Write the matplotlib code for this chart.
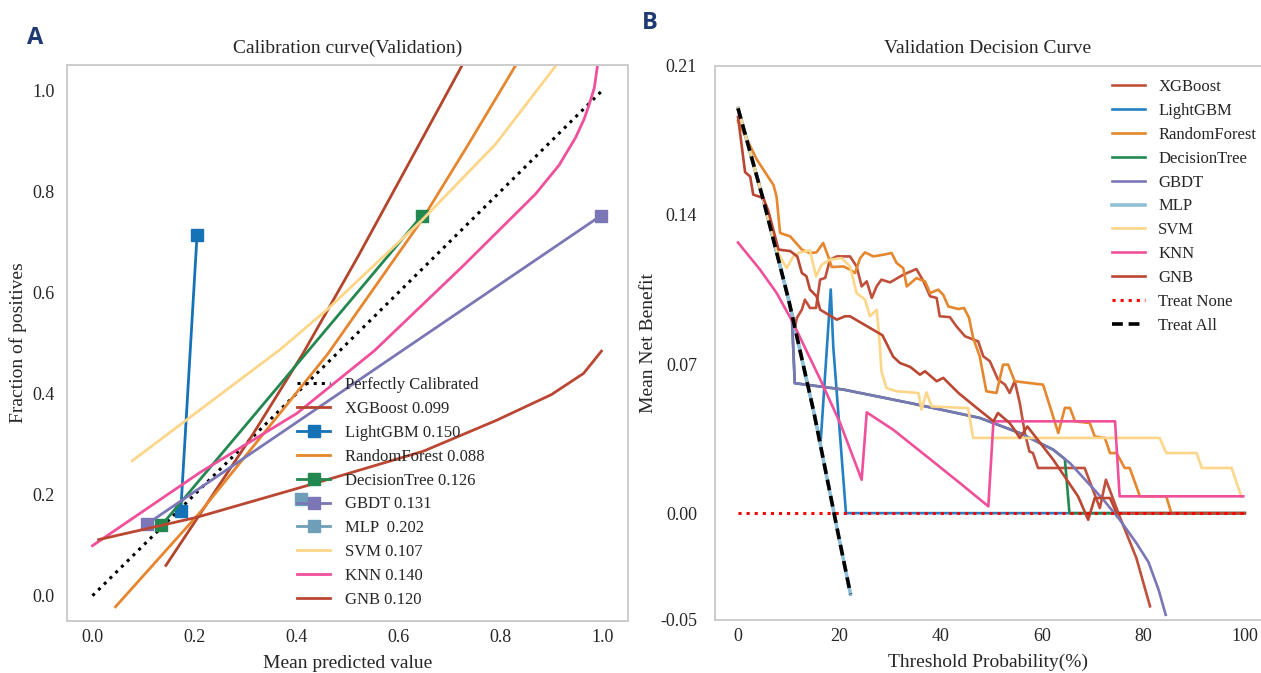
import matplotlib
matplotlib.use("Agg")
import matplotlib.pyplot as plt

# ---------------- Panel A: calibration curves ----------------
perfect_x = [0.0, 1.0]
perfect_y = [0.0, 1.0]

xgb_cal_x = [0.144, 0.313, 0.412, 0.52, 0.62, 0.724, 0.75]
xgb_cal_y = [0.060, 0.317, 0.478, 0.67, 0.855, 1.048, 1.10]
lgbm_cal_x = [0.173, 0.205]
lgbm_cal_y = [0.167, 0.713]
rf_cal_x = [0.045, 0.211, 0.461, 0.645, 0.737, 0.829, 0.86]
rf_cal_y = [-0.022, 0.165, 0.478, 0.742, 0.893, 1.048, 1.10]
dt_cal_x = [0.135, 0.646]
dt_cal_y = [0.139, 0.752]
gbdt_cal_x = [0.107, 0.997]
gbdt_cal_y = [0.142, 0.752]
mlp_cal_x = [0.408]
mlp_cal_y = [0.192]
svm_cal_x = [0.078, 0.369, 0.461, 0.645, 0.79, 0.908, 0.94]
svm_cal_y = [0.267, 0.488, 0.567, 0.742, 0.893, 1.048, 1.10]
knn_cal_x = [0.0, 0.211, 0.401, 0.553, 0.724, 0.868, 0.915, 0.947, 0.964, 0.974, 0.984, 0.990, 0.995]
knn_cal_y = [0.099, 0.244, 0.361, 0.485, 0.650, 0.794, 0.852, 0.906, 0.943, 0.972, 1.005, 1.048, 1.10]
gnb_cal_x = [0.012, 0.204, 0.435, 0.649, 0.792, 0.90, 0.963, 0.998]
gnb_cal_y = [0.111, 0.155, 0.222, 0.286, 0.347, 0.398, 0.440, 0.484]

cal_labels = ["Perfectly Calibrated", "XGBoost 0.099", "LightGBM 0.150", "RandomForest 0.088",
              "DecisionTree 0.126", "GBDT 0.131", "MLP  0.202", "SVM 0.107", "KNN 0.140", "GNB 0.120"]
cal_xticks = [0.0, 0.2, 0.4, 0.6, 0.8, 1.0]
cal_ticklabels = ["0.0", "0.2", "0.4", "0.6", "0.8", "1.0"]

# ---------------- Panel B: decision curves ----------------
xgb_dca_x = [0, 5, 10, 11.3, 11.6, 12.6, 13.2, 14.2, 15.4, 16.2, 17.2, 18.15, 19.5, 22.1, 23.4, 24.4,
             25.4, 26.4, 27.35, 28.3, 30.0, 32.6, 35.2, 36.6, 37.9, 39.2, 39.8, 41.8, 43.1, 44.8,
             47.4, 48.4, 49.7, 51.3, 52.7, 53.6, 54.6, 55.6, 56.6, 57.5, 58.2, 59.2, 68.4, 71.4,
             72.6, 75.3, 78.6, 81.3]
xgb_dca_y = [0.190, 0.147, 0.100, 0.088, 0.0916, 0.0955, 0.1002, 0.0963, 0.0963, 0.1096, 0.1104,
             0.119, 0.1205, 0.1205, 0.1158, 0.1064, 0.1088, 0.1010, 0.1064, 0.1096, 0.1083, 0.1119,
             0.1146, 0.1088, 0.1018, 0.101, 0.0924, 0.092, 0.0877, 0.083, 0.0806, 0.0736, 0.0713,
             0.0627, 0.0603, 0.0564, 0.062, 0.0517, 0.0376, 0.029, 0.0282, 0.0212, 0.0212, 0.0024,
             0.0157, -0.0015, -0.021, -0.0437]

lgbm_dca_x = [0, 5, 10, 16.3, 18.3, 18.8, 21.3, 100]
lgbm_dca_y = [0.190, 0.147, 0.100, 0.033, 0.105, 0.078, 0.0, 0.0]

rf_dca_x = [0, 3.7, 7.0, 7.6, 8.3, 10.3, 12.6, 14.2, 15.5, 16.8, 17.8, 18.5, 20.8, 22.1, 23.1, 24.1,
            25.05, 26.7, 28.7, 30.3, 31.3, 32.6, 33.3, 35.2, 36.9, 37.9, 39.5, 40.5, 41.5, 43.5,
            44.6, 45.6, 46.4, 47.7, 49.0, 51.0, 52.3, 53.3, 54.6, 60.2, 63.2, 64.5, 65.5, 66.5,
            69.4, 70.4, 72.4, 73.4, 74.7, 76.3, 77.3, 79.3, 84.5, 85.5, 100]
rf_dca_y = [0.184, 0.166, 0.154, 0.1487, 0.1315, 0.1299, 0.1237, 0.1221, 0.1224, 0.1268, 0.1205,
            0.1155, 0.1158, 0.1143, 0.1127, 0.1197, 0.1224, 0.1205, 0.1213, 0.1221, 0.1174, 0.1150,
            0.1064, 0.1103, 0.1088, 0.1033, 0.1049, 0.1025, 0.097, 0.0958, 0.0963, 0.0916, 0.0822,
            0.0736, 0.0572, 0.0564, 0.0697, 0.0697, 0.0619, 0.0603, 0.0376, 0.0494, 0.0494, 0.0431,
            0.0423, 0.036, 0.0353, 0.0282, 0.0282, 0.0212, 0.0212, 0.0079, 0.0079, 0.0, 0.0]

dt_dca_x = [0, 5, 10, 10.6, 11.2, 20.8, 33.9, 47.7, 55.6, 62.2, 64.5, 65.4, 100]
dt_dca_y = [0.190, 0.147, 0.100, 0.094, 0.061, 0.058, 0.0517, 0.0447, 0.0376, 0.0298, 0.0254, 0.0, 0.0]

gbdt_dca_x = [0, 5, 10, 10.6, 11.2, 20.8, 33.9, 47.7, 55.6, 62.2, 65.5, 68.8, 72.1, 75.3, 78.6,
              81.0, 83.0, 84.4]
gbdt_dca_y = [0.190, 0.147, 0.100, 0.094, 0.061, 0.058, 0.0517, 0.0447, 0.0376, 0.0298, 0.0235,
              0.0149, 0.0063, -0.003, -0.014, -0.023, -0.036, -0.0477]

mlp_dca_x = [0, 5, 10, 15, 20, 22.2]
mlp_dca_y = [0.190, 0.147, 0.100, 0.047, -0.0125, -0.038]

svm_dca_x = [0, 5, 7.63, 8.61, 9.6, 10.9, 12.23, 14.2, 15.4, 16.5, 18.15, 20.45, 22.1, 23.4, 25.05,
             26.04, 27.35, 27.68, 28.0, 28.3, 29.3, 31.3, 35.6, 36.2, 37.2, 38.2, 45.4, 46.4, 83.2,
             84.5, 90.5, 91.5, 97.4, 99.3]
svm_dca_y = [0.190, 0.147, 0.1237, 0.1190, 0.115, 0.1205, 0.1224, 0.1233, 0.1111, 0.1166, 0.119,
             0.1197, 0.1158, 0.1033, 0.1002, 0.0924, 0.0955, 0.0877, 0.0783, 0.0666, 0.0587, 0.0572,
             0.0564, 0.0486, 0.0567, 0.0501, 0.0493, 0.0353, 0.0353, 0.0282, 0.0282, 0.0212, 0.0212,
             0.0079]

knn_dca_x = [0, 4.34, 7.63, 10.85, 16.4, 20.2, 24.4, 25.4, 30.6, 37.2, 43.8, 49.4, 50.4, 74.4, 75.3, 99.7]
knn_dca_y = [0.127, 0.1143, 0.1033, 0.0894, 0.0619, 0.042, 0.0157, 0.0473, 0.0392, 0.0267, 0.0141,
             0.0032, 0.0431, 0.0431, 0.0079, 0.0079]

gnb_dca_x = [0, 1.4, 2.4, 3.0, 5.0, 6.0, 8.0, 10.3, 11.7, 12.6, 13.5, 14.2, 15.5, 16.2, 19.5, 21.1,
             22.1, 28.5, 30.6, 31.95, 34.0, 35.9, 36.9, 39.2, 40.5, 43.5, 47.1, 50.4, 51.3, 53.6,
             54.6, 55.6, 57.1, 62.2, 67.1, 69.1, 70.4, 73.4, 74.7, 100]
gnb_dca_y = [0.186, 0.160, 0.158, 0.1495, 0.1479, 0.1417, 0.1237, 0.123, 0.1205, 0.1127, 0.1112,
             0.1049, 0.1018, 0.0955, 0.0908, 0.0924, 0.0924, 0.0835, 0.0735, 0.0705, 0.0686, 0.065,
             0.0666, 0.0619, 0.0635, 0.0564, 0.0494, 0.0431, 0.047, 0.0423, 0.039, 0.0353, 0.0407,
             0.0251, 0.0079, -0.0031, 0.0071, 0.0071, 0.0, 0.0]

none_x = [0, 100]
none_y = [0.0, 0.0]
all_x = [0, 5, 10, 15, 20, 22.2]
all_y = [0.190, 0.147, 0.100, 0.047, -0.0125, -0.038]

dca_labels = ["XGBoost", "LightGBM", "RandomForest", "DecisionTree", "GBDT", "MLP", "SVM", "KNN",
              "GNB", "Treat None", "Treat All"]
dca_xticks = [0, 20, 40, 60, 80, 100]
dca_yticks = [-0.05, 0.0, 0.07, 0.14, 0.21]
dca_yticklabels = ["-0.05", "0.00", "0.07", "0.14", "0.21"]

# ---------------- styling ----------------
C_XGB = "#c0503c"
C_LGBM = "#1672b6"
C_RF = "#e6862e"
C_DT = "#23884f"
C_GBDT = "#7b76b6"
C_MLP = "#6f9fb8"
C_SVM = "#fdd68a"
C_KNN = "#f0509b"
C_GNB = "#bb4733"
TXT = "#262626"
SPINE = "#cccccc"
SERIF = ["Liberation Serif", "DejaVu Serif"]

plt.rcParams["font.family"] = SERIF
plt.rcParams["text.color"] = TXT
plt.rcParams["axes.labelcolor"] = TXT
plt.rcParams["xtick.color"] = TXT
plt.rcParams["ytick.color"] = TXT

W, H = 1261, 673
fig = plt.figure(figsize=(W / 100, H / 100), dpi=100)

def ax_rect(x0, y0, x1, y1):
    return [x0 / W, 1 - y1 / H, (x1 - x0) / W, (y1 - y0) / H]

# ---- Panel A ----
ax1 = fig.add_axes(ax_rect(67, 65, 628, 621))
lw = 2.0
ax1.plot(perfect_x, perfect_y, ":", color="black", lw=2.2, label=cal_labels[0])
ax1.plot(xgb_cal_x, xgb_cal_y, "-", color="#b3452d", lw=lw, label=cal_labels[1])
ax1.plot(lgbm_cal_x, lgbm_cal_y, "s-", color=C_LGBM, lw=lw, ms=8, label=cal_labels[2])
ax1.plot(rf_cal_x, rf_cal_y, "-", color=C_RF, lw=lw, label=cal_labels[3])
ax1.plot(dt_cal_x, dt_cal_y, "s-", color=C_DT, lw=lw, ms=8, label=cal_labels[4])
ax1.plot(gbdt_cal_x, gbdt_cal_y, "s-", color=C_GBDT, lw=lw, ms=8, label=cal_labels[5])
ax1.plot(mlp_cal_x, mlp_cal_y, "s-", color=C_MLP, lw=lw, ms=8, label=cal_labels[6])
ax1.plot(svm_cal_x, svm_cal_y, "-", color=C_SVM, lw=lw, label=cal_labels[7])
ax1.plot(knn_cal_x, knn_cal_y, "-", color=C_KNN, lw=lw, label=cal_labels[8])
ax1.plot(gnb_cal_x, gnb_cal_y, "-", color=C_GNB, lw=lw, label=cal_labels[9])
ax1.set_xlim(-0.05, 1.05)
ax1.set_ylim(-0.05, 1.05)
ax1.set_xticks(cal_xticks)
ax1.set_xticklabels(cal_ticklabels)
ax1.set_yticks(cal_xticks)
ax1.set_yticklabels(cal_ticklabels)
ax1.tick_params(axis="x", length=0, pad=6, labelsize=13)
ax1.tick_params(axis="y", length=0, pad=9, labelsize=13)
ax1.set_title("Calibration curve(Validation)", fontsize=14, pad=9)
ax1.set_xlabel("Mean predicted value", fontsize=14, labelpad=6)
ax1.set_ylabel("Fraction of positives", fontsize=14, labelpad=4)
leg1 = ax1.legend(loc="center left", bbox_to_anchor=(0.398, 0.231), frameon=False, fontsize=12,
                  handlelength=2.0, handletextpad=0.9, labelspacing=0.47, numpoints=1,
                  borderaxespad=0)

# ---- Panel B ----
ax2 = fig.add_axes(ax_rect(715, 65.7, 1261, 619.7))
lw2 = 1.9
ax2.plot(xgb_dca_x, xgb_dca_y, color=C_XGB, lw=lw2, label=dca_labels[0])
ax2.plot(lgbm_dca_x, lgbm_dca_y, color="#2580c3", lw=lw2, label=dca_labels[1])
ax2.plot(rf_dca_x, rf_dca_y, color=C_RF, lw=lw2, label=dca_labels[2])
ax2.plot(dt_dca_x, dt_dca_y, color=C_DT, lw=lw2, label=dca_labels[3])
ax2.plot(gbdt_dca_x, gbdt_dca_y, color=C_GBDT, lw=lw2, label=dca_labels[4])
ax2.plot(mlp_dca_x, mlp_dca_y, color="#8fc0d8", lw=2.6, label=dca_labels[5])
ax2.plot(svm_dca_x, svm_dca_y, color=C_SVM, lw=lw2, label=dca_labels[6])
ax2.plot(knn_dca_x, knn_dca_y, color=C_KNN, lw=lw2, label=dca_labels[7])
ax2.plot(gnb_dca_x, gnb_dca_y, color=C_GNB, lw=lw2, label=dca_labels[8])
ax2.plot(none_x, none_y, ":", color="red", lw=2.2, label=dca_labels[9])
ax2.plot(all_x, all_y, "--", color="black", lw=2.6, dashes=(3, 1.6), label=dca_labels[10])
ax2.set_xlim(-4.54, 103.2)
ax2.set_ylim(-0.05, 0.21)
ax2.set_xticks(dca_xticks)
ax2.set_yticks(dca_yticks)
ax2.set_yticklabels(dca_yticklabels)
ax2.tick_params(axis="x", length=0, pad=6, labelsize=13)
ax2.tick_params(axis="y", length=0, pad=13, labelsize=13)
ax2.set_title("Validation Decision Curve", fontsize=14, pad=9)
ax2.set_xlabel("Threshold Probability(%)", fontsize=14, labelpad=6)
ax2.set_ylabel("Mean Net Benefit", fontsize=14, labelpad=2)
leg2 = ax2.legend(loc="center left", bbox_to_anchor=(0.714, 0.746), frameon=False, fontsize=12,
                  handlelength=2.0, handletextpad=0.8, labelspacing=0.47, borderaxespad=0)
ax2.spines["right"].set_visible(False)

for ax in (ax1, ax2):
    for s in ax.spines.values():
        s.set_color(SPINE)
        s.set_linewidth(1.4)

fig.text(35 / W, 1 - 38 / H, "A", fontsize=17, fontweight="bold", color="#1f3a73",
         family=["Open Sans", "DejaVu Sans"], ha="center", va="center")
fig.text(650 / W, 1 - 23 / H, "B", fontsize=17, fontweight="bold", color="#1f3a73",
         family=["Open Sans", "DejaVu Sans"], ha="center", va="center")

fig.savefig("out.png", dpi=100)
